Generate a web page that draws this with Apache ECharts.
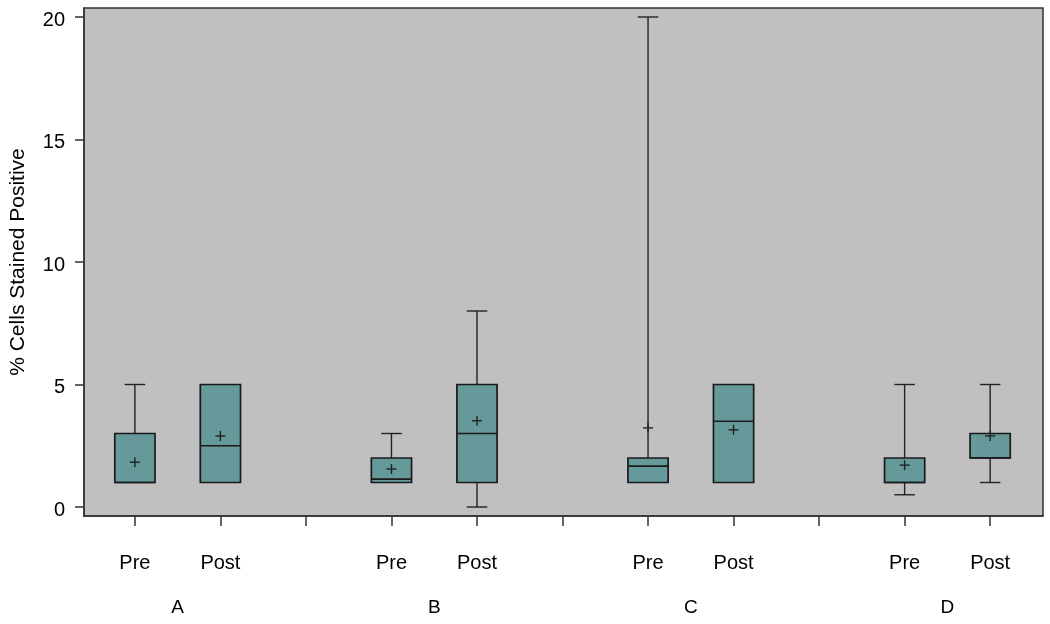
<!DOCTYPE html>
<html>
<head>
<meta charset="utf-8">
<script src="https://cdn.jsdelivr.net/npm/echarts@6/dist/echarts.min.js"></script>
<style>html,body{margin:0;padding:0;background:#fff}#c{width:1050px;height:624px}</style>
</head>
<body>
<div id="c"></div>
<script>
// ---- data ----
const positions = [1, 2, 4, 5, 7, 8, 10, 11];
const categories = ['Pre', 'Post', 'Pre', 'Post', 'Pre', 'Post', 'Pre', 'Post'];
const separators = [3, 6, 9];
const groupPositions = [1.5, 4.5, 7.5, 10.5];
const groupLabels = ['A', 'B', 'C', 'D'];
const mins    = [1, 1, 1, 0, 1, 1, 0.5, 1];
const q1s     = [1, 1, 1, 1, 1, 1, 1, 2];
const medians = [1, 2.5, 1.14, 3, 1.67, 3.5, 1, 2];
const q3s     = [3, 5, 2, 5, 2, 5, 2, 3];
const maxs    = [5, 5, 3, 8, 20, 5, 5, 5];
const means   = [1.83, 2.9, 1.55, 3.52, 3.23, 3.15, 1.71, 2.9];
const yTicks  = [0, 5, 10, 15, 20];

const boxData = positions.map((p, i) => [p, mins[i], q1s[i], medians[i], q3s[i], maxs[i], means[i]]);
const xTicks = positions.concat(separators).sort((a, b) => a - b);

const FONT = 'Liberation Sans, Arial, sans-serif';
const LINE = '#222';

function renderBox(params, api) {
  const x = api.value(0);
  const vmin = api.value(1), q1 = api.value(2), med = api.value(3), q3 = api.value(4), vmax = api.value(5), mean = api.value(6);
  const unit = api.size([1, 0])[0];
  const halfBox = unit * 0.235;
  const halfCap = unit * 0.12;
  const pMin = api.coord([x, vmin]), pQ1 = api.coord([x, q1]), pMed = api.coord([x, med]);
  const pQ3 = api.coord([x, q3]), pMax = api.coord([x, vmax]), pMean = api.coord([x, mean]);
  const cx = pQ1[0];
  const children = [];
  const ls = { stroke: LINE, lineWidth: 1.4 };
  if (vmax > q3) {
    children.push({ type: 'line', shape: { x1: cx, y1: pQ3[1], x2: cx, y2: pMax[1] }, style: ls });
    children.push({ type: 'line', shape: { x1: cx - halfCap, y1: pMax[1], x2: cx + halfCap, y2: pMax[1] }, style: ls });
  }
  if (vmin < q1) {
    children.push({ type: 'line', shape: { x1: cx, y1: pQ1[1], x2: cx, y2: pMin[1] }, style: ls });
    children.push({ type: 'line', shape: { x1: cx - halfCap, y1: pMin[1], x2: cx + halfCap, y2: pMin[1] }, style: ls });
  }
  children.push({ type: 'rect', shape: { x: cx - halfBox, y: pQ3[1], width: halfBox * 2, height: pQ1[1] - pQ3[1] },
    style: { fill: '#669999', stroke: '#1a1a1a', lineWidth: 1.7 } });
  children.push({ type: 'line', shape: { x1: cx - halfBox, y1: pMed[1], x2: cx + halfBox, y2: pMed[1] }, style: { stroke: '#1a1a1a', lineWidth: 1.7 } });
  const m = 5;
  children.push({ type: 'line', shape: { x1: cx - m, y1: pMean[1], x2: cx + m, y2: pMean[1] }, style: ls });
  children.push({ type: 'line', shape: { x1: cx, y1: pMean[1] - m, x2: cx, y2: pMean[1] + m }, style: ls });
  return { type: 'group', children: children };
}

const chart = echarts.init(document.getElementById('c'), null, { renderer: 'canvas' });
chart.setOption({
  animation: false,
  backgroundColor: '#ffffff',
  textStyle: { fontFamily: FONT },
  grid: { left: 82, right: 7, top: 8, bottom: 108, show: true, backgroundColor: '#c0c0c0', borderColor: '#333', borderWidth: 1.5 },
  xAxis: [
    {
      type: 'value', position: 'bottom', min: 0.405, max: 11.618,
      axisLine: { show: true, onZero: false, lineStyle: { color: '#333', width: 1.5 } },
      axisTick: { show: true, length: 10, customValues: xTicks, lineStyle: { color: '#333', width: 1.5 } },
      axisLabel: { customValues: positions, margin: 37, fontSize: 20, color: '#000', fontFamily: FONT,
        formatter: v => categories[positions.indexOf(v)] || '' },
      splitLine: { show: false }
    },
    {
      type: 'value', position: 'bottom', min: 0.405, max: 11.618,
      axisLine: { show: false, onZero: false }, axisTick: { show: false },
      axisLabel: { customValues: groupPositions, margin: 82, fontSize: 19, color: '#000', fontFamily: FONT,
        formatter: v => groupLabels[groupPositions.indexOf(v)] || '' },
      splitLine: { show: false }
    }
  ],
  yAxis: {
    type: 'value', min: -0.367, max: 20.367,
    name: '% Cells Stained Positive', nameLocation: 'middle', nameGap: 55, nameRotate: 90,
    nameTextStyle: { fontSize: 21, color: '#000', fontFamily: FONT },
    axisLine: { show: true, onZero: false, lineStyle: { color: '#333', width: 1.5 } },
    axisTick: { show: true, length: 9, customValues: yTicks, lineStyle: { color: '#333', width: 1.5 } },
    axisLabel: { customValues: yTicks, margin: 19, fontSize: 20, color: '#000', fontFamily: FONT,
      verticalAlign: 'top', lineHeight: 6 },
    splitLine: { show: false }
  },
  series: [{
    type: 'custom', renderItem: renderBox, data: boxData, xAxisIndex: 0, yAxisIndex: 0,
    encode: { x: 0, y: [1, 2, 3, 4, 5, 6] }, clip: false
  }]
});
</script>
</body>
</html>
